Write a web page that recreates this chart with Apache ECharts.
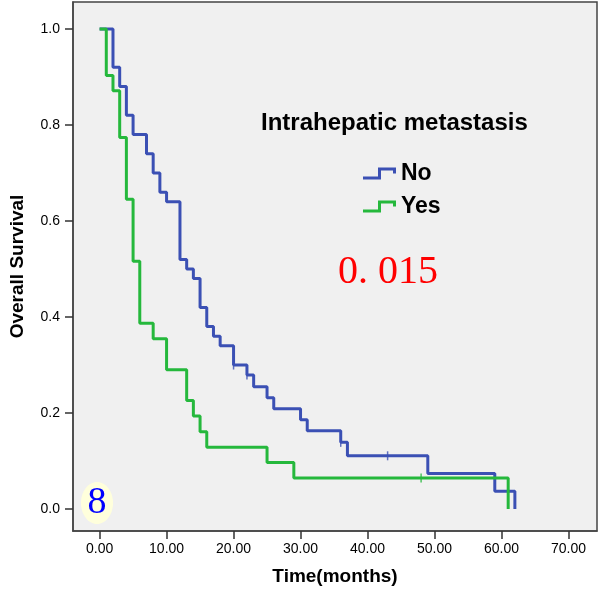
<!DOCTYPE html>
<html>
<head>
<meta charset="utf-8">
<script src="https://cdn.jsdelivr.net/npm/echarts@6/dist/echarts.min.js"></script>
<style>
html,body{margin:0;padding:0;background:#fff;}
#chart{width:600px;height:591px;}
</style>
</head>
<body>
<div id="chart"></div>
<script>
// Kaplan-Meier steps
const noTimes = [0, 2, 3, 4, 5, 7, 8, 9, 10, 12, 13, 14, 15, 16, 17, 18, 20, 22, 23, 25, 26, 30, 31, 36, 37, 49, 59, 62];
const noSurv = [1, 0.92, 0.88, 0.82, 0.78, 0.74, 0.70, 0.66, 0.64, 0.52, 0.50, 0.48, 0.42, 0.38, 0.36, 0.34, 0.30, 0.279, 0.255, 0.232, 0.209, 0.186, 0.163, 0.139, 0.111, 0.074, 0.037, 0];
const yesTimes = [0, 1, 2, 3, 4, 5, 6, 8, 10, 13, 14, 15, 16, 25, 29, 61];
const yesSurv = [1, 0.903, 0.871, 0.774, 0.645, 0.516, 0.387, 0.355, 0.290, 0.226, 0.194, 0.161, 0.129, 0.097, 0.065, 0];
// censored cases
const noCensTimes = [20, 22, 36, 43];
const noCensSurv = [0.30, 0.279, 0.139, 0.111];
const yesCensTimes = [48];
const yesCensSurv = [0.065];

const xTicks = [0, 10, 20, 30, 40, 50, 60, 70];
const yTicks = [0, 0.2, 0.4, 0.6, 0.8, 1.0];
const groups = ['No', 'Yes'];
const pValue = '0. 015';
const panelTag = '8';

const BLUE = '#3b50b4';
const GREEN = '#25b83c';

function pairs(xs, ys){
    return xs.map((x, i) => [x, ys[i]]);
}

// step icon for the legend, drawn as a thin band
const STEP_ICON = 'path://M0,9L15,9L15,0L33,0L33,6L30,6L30,3L18,3L18,12L0,12Z';

const chart = echarts.init(document.getElementById('chart'));
chart.setOption({
    backgroundColor: '#fff',
    animation: false,
    textStyle: {fontFamily: 'Liberation Sans, Arial, sans-serif'},
    title: {
        text: 'Intrahepatic metastasis',
        left: 256,
        top: 106,
        textStyle: {fontSize: 24, fontWeight: 'bold', color: '#000'}
    },
    legend: {
        data: groups,
        orient: 'vertical',
        left: 358,
        top: 157,
        itemWidth: 33,
        itemHeight: 12,
        itemGap: 10,
        icon: STEP_ICON,
        textStyle: {fontSize: 23, fontWeight: 'bold', color: '#000', lineHeight: 23}
    },
    grid: {
        left: 65, right: 3, top: 2, bottom: 58,
        show: true,
        backgroundColor: '#f0f0f0',
        borderColor: '#444',
        borderWidth: 1.5
    },
    xAxis: {
        type: 'value',
        min: -3.97,
        max: 74.26,
        name: 'Time(months)',
        nameLocation: 'middle',
        nameGap: 36,
        nameTextStyle: {fontSize: 19, fontWeight: 'bold', color: '#000'},
        axisLine: {show: true, onZero: false, lineStyle: {color: '#444', width: 1.5}},
        axisTick: {show: true, length: 8, customValues: xTicks, lineStyle: {color: '#333', width: 1.5}},
        axisLabel: {customValues: xTicks, formatter: v => v.toFixed(2), fontSize: 14, color: '#000', margin: 11},
        splitLine: {show: false}
    },
    yAxis: {
        type: 'value',
        min: -0.0456,
        max: 1.056,
        name: 'Overall Survival',
        nameLocation: 'middle',
        nameGap: 46,
        nameTextStyle: {fontSize: 19, fontWeight: 'bold', color: '#000'},
        axisLine: {show: true, onZero: false, lineStyle: {color: '#444', width: 1.5}},
        axisTick: {show: true, length: 8, customValues: yTicks, lineStyle: {color: '#333', width: 1.5}},
        axisLabel: {customValues: yTicks, formatter: v => v.toFixed(1), fontSize: 14, color: '#000', margin: 13},
        splitLine: {show: false}
    },
    series: [
        {
            name: 'No',
            type: 'line',
            step: 'end',
            data: pairs(noTimes, noSurv),
            showSymbol: false,
            color: BLUE,
            lineStyle: {width: 3, color: BLUE}
        },
        {
            name: 'Yes',
            type: 'line',
            step: 'end',
            data: pairs(yesTimes, yesSurv),
            showSymbol: false,
            color: GREEN,
            lineStyle: {width: 3, color: GREEN}
        },
        {
            name: 'No censored',
            type: 'scatter',
            data: pairs(noCensTimes, noCensSurv),
            symbol: 'rect',
            symbolSize: [1.5, 9],
            itemStyle: {color: BLUE}
        },
        {
            name: 'Yes censored',
            type: 'scatter',
            data: pairs(yesCensTimes, yesCensSurv),
            symbol: 'rect',
            symbolSize: [1.5, 9],
            itemStyle: {color: GREEN}
        }
    ],
    graphic: [
        {
            type: 'text',
            left: 338,
            top: 252,
            style: {text: pValue, fontSize: 40, fontFamily: 'Liberation Serif, Times New Roman, serif', fill: '#ff0000'}
        },
        {
            type: 'ellipse',
            shape: {cx: 97, cy: 503, rx: 16, ry: 21},
            style: {fill: '#ffffdc'}
        },
        {
            type: 'text',
            x: 97,
            y: 503,
            style: {text: panelTag, fontSize: 38, fontFamily: 'Liberation Serif, Times New Roman, serif', fill: '#0000ff', align: 'center', verticalAlign: 'middle'}
        }
    ]
});
</script>
</body>
</html>
